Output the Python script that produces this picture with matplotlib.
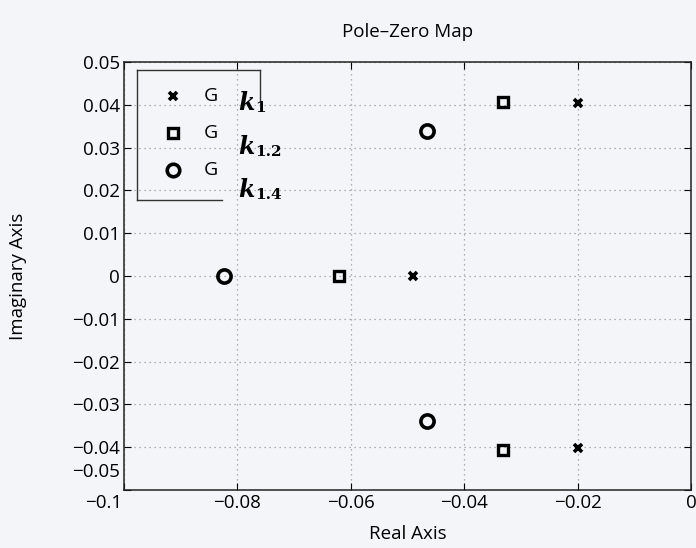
import matplotlib
matplotlib.use("Agg")
import matplotlib.pyplot as plt
from matplotlib.lines import Line2D
from matplotlib.transforms import ScaledTranslation

# Pole locations of the three loop gains
poles_k1_re = [-0.020, -0.020, -0.049]
poles_k1_im = [0.0405, -0.0402, 0.0]
poles_k12_re = [-0.0332, -0.0332, -0.0621]
poles_k12_im = [0.0407, -0.0406, 0.0]
poles_k14_re = [-0.0466, -0.0466, -0.0824]
poles_k14_im = [0.0339, -0.0339, 0.0]

legend_names = ["G", "G", "G"]
legend_subs = ["1", "1.2", "1.4"]

xticks = [-0.1, -0.08, -0.06, -0.04, -0.02, 0]
xtick_labels = ["\u22120.1", "\u22120.08", "\u22120.06", "\u22120.04", "\u22120.02", "0"]
yticks = [0.05, 0.04, 0.03, 0.02, 0.01, 0, -0.01, -0.02, -0.03, -0.04, -0.05]
ytick_labels = ["0.05", "0.04", "0.03", "0.02", "0.01", "0", "\u22120.01", "\u22120.02",
                "\u22120.03", "\u22120.04", "\u22120.05"]

bg = "#f4f5f8"
plt.rcParams["font.family"] = ["Open Sans", "DejaVu Sans"]

fig = plt.figure(figsize=(6.96, 5.48), dpi=100, facecolor=bg)
ax = fig.add_axes([0.178, 0.106, 0.815, 0.781], facecolor=bg)

ax.plot(poles_k1_re, poles_k1_im, linestyle="none", marker="x", color="black",
        markersize=6, markeredgewidth=2.6)
ax.plot(poles_k12_re, poles_k12_im, linestyle="none", marker="s", color="black",
        markerfacecolor="none", markersize=7.5, markeredgewidth=2.4)
ax.plot(poles_k14_re, poles_k14_im, linestyle="none", marker="o", color="black",
        markerfacecolor="none", markersize=9.5, markeredgewidth=2.6)

ax.set_xlim(-0.1, 0)
ax.set_ylim(-0.05, 0.05)
ax.set_xticks(xticks)
ax.set_xticklabels(xtick_labels)
ax.set_yticks(yticks)
ax.set_yticklabels(ytick_labels)
ax.tick_params(direction="in", top=True, right=True, length=5, width=0.8,
               labelsize=13.5, colors="black", pad=3)
for lbl in ax.get_yticklabels():
    if lbl.get_text() == "\u22120.05":
        lbl.set_transform(lbl.get_transform() + ScaledTranslation(0, 0.2, fig.dpi_scale_trans))
for lbl in ax.get_xticklabels():
    if lbl.get_text() == "\u22120.1":
        lbl.set_transform(lbl.get_transform() + ScaledTranslation(-0.2, 0, fig.dpi_scale_trans))
ax.grid(True, linestyle=(0, (1, 3)), color="#999999", linewidth=0.9)
for s in ax.spines.values():
    s.set_linewidth(1.1)
    s.set_color("#222222")

ax.set_title("Pole\u2013Zero Map", fontsize=13.5, pad=18)
ax.set_xlabel("Real Axis", fontsize=13.5, labelpad=9)
ax.set_ylabel("Imaginary Axis", fontsize=13.5, labelpad=32)

# Legend: markers, names and gain subscripts in axes coordinates
tr = ax.transAxes
def ax_xy(px, py):
    x0, x1, y0, y1 = 124, 691, 62, 490
    return (px - x0) / (x1 - x0), 1 - (py - y0) / (y1 - y0)

markers = [("x", 6, 2.6), ("s", 7.5, 2.4), ("o", 9, 2.6)]
rows = [96, 133, 170]
sub_rows = [103, 147, 190]
for (m, ms, mew), py, spy, name, sub in zip(markers, rows, sub_rows, legend_names, legend_subs):
    mx, my = ax_xy(173, py)
    ax.plot([mx], [my], transform=tr, marker=m, color="black", markerfacecolor="none",
            markersize=ms, markeredgewidth=mew, linestyle="none", clip_on=False)
    tx, ty = ax_xy(204, py)
    ax.text(tx, ty, name, transform=tr, fontsize=14, va="center", ha="left")
    kx, ky = ax_xy(238, spy)
    ax.text(kx, ky, "k", transform=tr, fontsize=17,
            family="DejaVu Serif", style="italic", weight="bold", va="center", ha="left")
    sx, sy = ax_xy(255, spy + 5)
    ax.text(sx, sy, sub, transform=tr, fontsize=11, family="DejaVu Serif",
            weight="bold", va="center", ha="left")

# Partial legend frame
frame_segs = [((137, 70), (260, 70)), ((260, 70), (260, 100)),
              ((137, 70), (137, 200)), ((137, 200), (222, 200))]
for (p0, p1) in frame_segs:
    a = ax_xy(*p0)
    b = ax_xy(*p1)
    ax.add_line(Line2D([a[0], b[0]], [a[1], b[1]], transform=tr, color="#333333",
                       linewidth=1.0))

fig.savefig("out.png", dpi=100, facecolor=bg)
